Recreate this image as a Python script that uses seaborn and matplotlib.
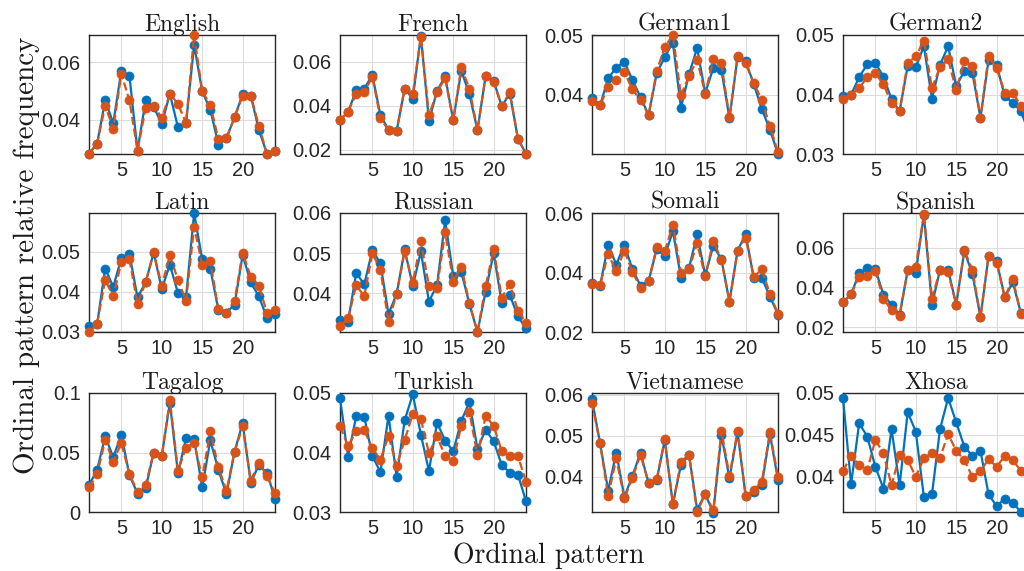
import matplotlib
matplotlib.use("Agg")
import matplotlib.pyplot as plt
import seaborn as sns
import pandas as pd
from matplotlib.ticker import FuncFormatter

# ordinal pattern index
patterns = list(range(1, 25))

english_1 = [0.0281, 0.0316, 0.0467, 0.0388, 0.0571, 0.0553, 0.0292, 0.0467, 0.0444, 0.0385, 0.0490, 0.0373,
             0.0388, 0.0660, 0.0498, 0.0435, 0.0313, 0.0336, 0.0408, 0.0489, 0.0484, 0.0365, 0.0281, 0.0290]
english_2 = [0.0281, 0.0316, 0.0449, 0.0368, 0.0560, 0.0467, 0.0292, 0.0440, 0.0449, 0.0406, 0.0490, 0.0455,
             0.0388, 0.0695, 0.0498, 0.0452, 0.0331, 0.0336, 0.0408, 0.0484, 0.0484, 0.0379, 0.0281, 0.0290]

french_1 = [0.0336, 0.0371, 0.0470, 0.0477, 0.0539, 0.0356, 0.0291, 0.0285, 0.0477, 0.0432, 0.0717, 0.0330,
            0.0467, 0.0533, 0.0333, 0.0558, 0.0452, 0.0288, 0.0533, 0.0512, 0.0397, 0.0455, 0.0250, 0.0180]
french_2 = [0.0336, 0.0371, 0.0455, 0.0460, 0.0532, 0.0342, 0.0288, 0.0285, 0.0477, 0.0452, 0.0714, 0.0356,
            0.0462, 0.0524, 0.0333, 0.0574, 0.0477, 0.0288, 0.0533, 0.0508, 0.0397, 0.0462, 0.0250, 0.0180]

german1_1 = [0.0395, 0.0382, 0.0428, 0.0446, 0.0456, 0.0425, 0.0396, 0.0366, 0.0436, 0.0464, 0.0488, 0.0378,
             0.0435, 0.0479, 0.0403, 0.0445, 0.0442, 0.0360, 0.0464, 0.0457, 0.0418, 0.0376, 0.0341, 0.0300]
german1_2 = [0.0390, 0.0382, 0.0414, 0.0425, 0.0439, 0.0409, 0.0391, 0.0366, 0.0440, 0.0481, 0.0501, 0.0399,
             0.0432, 0.0459, 0.0402, 0.0460, 0.0453, 0.0362, 0.0465, 0.0453, 0.0420, 0.0391, 0.0347, 0.0303]

german2_1 = [0.0397, 0.0400, 0.0429, 0.0451, 0.0453, 0.0430, 0.0392, 0.0372, 0.0448, 0.0446, 0.0481, 0.0393,
             0.0450, 0.0481, 0.0414, 0.0439, 0.0436, 0.0361, 0.0458, 0.0450, 0.0397, 0.0386, 0.0372, 0.0335]
german2_2 = [0.0393, 0.0400, 0.0411, 0.0429, 0.0436, 0.0417, 0.0386, 0.0372, 0.0453, 0.0464, 0.0490, 0.0411,
             0.0446, 0.0459, 0.0407, 0.0456, 0.0448, 0.0360, 0.0464, 0.0444, 0.0403, 0.0403, 0.0381, 0.0350]

latin_1 = [0.0312, 0.0317, 0.0458, 0.0412, 0.0484, 0.0495, 0.0385, 0.0423, 0.0498, 0.0406, 0.0468, 0.0396,
           0.0386, 0.0598, 0.0481, 0.0458, 0.0353, 0.0347, 0.0367, 0.0492, 0.0423, 0.0388, 0.0334, 0.0344]
latin_2 = [0.0298, 0.0319, 0.0429, 0.0388, 0.0474, 0.0481, 0.0369, 0.0423, 0.0499, 0.0415, 0.0491, 0.0429,
           0.0377, 0.0563, 0.0468, 0.0476, 0.0355, 0.0347, 0.0377, 0.0498, 0.0437, 0.0415, 0.0347, 0.0353]

russian_1 = [0.0334, 0.0329, 0.0450, 0.0422, 0.0507, 0.0474, 0.0348, 0.0398, 0.0509, 0.0417, 0.0504, 0.0379,
             0.0420, 0.0582, 0.0443, 0.0453, 0.0373, 0.0303, 0.0403, 0.0500, 0.0375, 0.0395, 0.0342, 0.0312]
russian_2 = [0.0317, 0.0337, 0.0420, 0.0392, 0.0500, 0.0458, 0.0329, 0.0398, 0.0504, 0.0426, 0.0529, 0.0418,
             0.0414, 0.0552, 0.0429, 0.0466, 0.0375, 0.0303, 0.0417, 0.0509, 0.0389, 0.0422, 0.0356, 0.0325]

somali_1 = [0.0367, 0.0357, 0.0496, 0.0428, 0.0496, 0.0412, 0.0357, 0.0372, 0.0481, 0.0457, 0.0542, 0.0383,
            0.0417, 0.0531, 0.0392, 0.0492, 0.0446, 0.0303, 0.0476, 0.0531, 0.0383, 0.0383, 0.0320, 0.0259]
somali_2 = [0.0364, 0.0359, 0.0464, 0.0406, 0.0476, 0.0403, 0.0350, 0.0372, 0.0487, 0.0473, 0.0564, 0.0401,
            0.0414, 0.0500, 0.0388, 0.0509, 0.0444, 0.0303, 0.0476, 0.0520, 0.0387, 0.0412, 0.0329, 0.0261]

spanish_1 = [0.0326, 0.0366, 0.0472, 0.0497, 0.0492, 0.0363, 0.0313, 0.0262, 0.0486, 0.0472, 0.0767, 0.0313,
             0.0489, 0.0489, 0.0313, 0.0583, 0.0469, 0.0250, 0.0558, 0.0533, 0.0351, 0.0425, 0.0271, 0.0240]
spanish_2 = [0.0326, 0.0366, 0.0455, 0.0459, 0.0484, 0.0341, 0.0287, 0.0257, 0.0486, 0.0503, 0.0770, 0.0343,
             0.0489, 0.0476, 0.0313, 0.0588, 0.0489, 0.0250, 0.0561, 0.0524, 0.0351, 0.0442, 0.0267, 0.0240]

tagalog_1 = [0.0226, 0.0353, 0.0636, 0.0460, 0.0650, 0.0311, 0.0155, 0.0198, 0.0500, 0.0472, 0.0918, 0.0325,
             0.0621, 0.0613, 0.0206, 0.0602, 0.0353, 0.0150, 0.0508, 0.0749, 0.0246, 0.0395, 0.0330, 0.0113]
tagalog_2 = [0.0206, 0.0319, 0.0602, 0.0424, 0.0579, 0.0319, 0.0169, 0.0226, 0.0500, 0.0472, 0.0940, 0.0347,
             0.0542, 0.0579, 0.0291, 0.0678, 0.0376, 0.0178, 0.0508, 0.0720, 0.0263, 0.0415, 0.0302, 0.0161]

turkish_1 = [0.0492, 0.0393, 0.0461, 0.0460, 0.0394, 0.0367, 0.0462, 0.0359, 0.0454, 0.0498, 0.0430, 0.0369,
             0.0450, 0.0420, 0.0402, 0.0453, 0.0485, 0.0406, 0.0438, 0.0419, 0.0379, 0.0366, 0.0363, 0.0318]
turkish_2 = [0.0444, 0.0411, 0.0436, 0.0437, 0.0407, 0.0388, 0.0428, 0.0378, 0.0421, 0.0465, 0.0456, 0.0399,
             0.0427, 0.0394, 0.0386, 0.0445, 0.0468, 0.0395, 0.0461, 0.0445, 0.0402, 0.0394, 0.0394, 0.0351]

vietnamese_1 = [0.0589, 0.0481, 0.0366, 0.0459, 0.0351, 0.0402, 0.0459, 0.0384, 0.0392, 0.0489, 0.0333, 0.0429,
                0.0453, 0.0320, 0.0358, 0.0312, 0.0502, 0.0396, 0.0508, 0.0353, 0.0363, 0.0380, 0.0504, 0.0392]
vietnamese_2 = [0.0580, 0.0481, 0.0353, 0.0445, 0.0347, 0.0398, 0.0453, 0.0384, 0.0394, 0.0491, 0.0333, 0.0437,
                0.0453, 0.0314, 0.0358, 0.0318, 0.0512, 0.0402, 0.0512, 0.0353, 0.0367, 0.0388, 0.0508, 0.0400]

xhosa_1 = [0.0494, 0.0391, 0.0464, 0.0448, 0.0412, 0.0386, 0.0457, 0.0390, 0.0477, 0.0454, 0.0376, 0.0379,
           0.0457, 0.0494, 0.0465, 0.0436, 0.0425, 0.0431, 0.0379, 0.0365, 0.0374, 0.0369, 0.0358, 0.0358]
xhosa_2 = [0.0407, 0.0425, 0.0414, 0.0408, 0.0444, 0.0428, 0.0390, 0.0426, 0.0420, 0.0400, 0.0422, 0.0428,
           0.0423, 0.0451, 0.0431, 0.0420, 0.0400, 0.0407, 0.0421, 0.0412, 0.0425, 0.0420, 0.0407, 0.0405]

languages = ["English", "French", "German1", "German2",
             "Latin", "Russian", "Somali", "Spanish",
             "Tagalog", "Turkish", "Vietnamese", "Xhosa"]
series_1 = [english_1, french_1, german1_1, german2_1, latin_1, russian_1,
            somali_1, spanish_1, tagalog_1, turkish_1, vietnamese_1, xhosa_1]
series_2 = [english_2, french_2, german1_2, german2_2, latin_2, russian_2,
            somali_2, spanish_2, tagalog_2, turkish_2, vietnamese_2, xhosa_2]

# axis limits / ticks for each panel
ylims = [(0.028, 0.0695), (0.018, 0.0721), (0.0300, 0.0501), (0.03, 0.05),
         (0.0298, 0.0598), (0.0303, 0.060), (0.020, 0.0603), (0.0175, 0.0776),
         (0.0, 0.1), (0.03, 0.05), (0.0314, 0.0604), (0.0358, 0.05)]
yticks = [[0.04, 0.06], [0.02, 0.04, 0.06], [0.04, 0.05], [0.03, 0.04, 0.05],
          [0.03, 0.04, 0.05], [0.04, 0.05, 0.06], [0.02, 0.04, 0.06], [0.02, 0.04, 0.06],
          [0, 0.05, 0.1], [0.03, 0.04, 0.05], [0.04, 0.05, 0.06], [0.04, 0.045, 0.05]]

BLUE = "#0072BD"
ORANGE = "#D95319"

sns.set_theme(style="white")
plt.rcParams["font.family"] = ["Liberation Sans", "DejaVu Sans"]

W, H = 1024, 571
fig = plt.figure(figsize=(W / 100, H / 100), dpi=100)

col_left = [89, 340, 592, 843]
row_top = [35, 213, 393]
ax_w, ax_h = 186, 119

for i, lang in enumerate(languages):
    r, c = divmod(i, 4)
    ax = fig.add_axes([col_left[c] / W, 1 - (row_top[r] + ax_h) / H, ax_w / W, ax_h / H])
    df = pd.DataFrame({"pattern": patterns, "a": series_1[i], "b": series_2[i]})
    sns.lineplot(data=df, x="pattern", y="a", ax=ax, color=BLUE, lw=1.6, marker="o",
                 markersize=6.5, markeredgecolor=BLUE, markeredgewidth=0.5,
                 errorbar=None, clip_on=False, zorder=3)
    sns.lineplot(data=df, x="pattern", y="b", ax=ax, color=ORANGE, lw=1.6, linestyle="--",
                 marker="o", markersize=6.5, markeredgecolor=ORANGE, markeredgewidth=0.5,
                 errorbar=None, clip_on=False, zorder=4)
    ax.set_xlim(1, 24)
    ax.set_ylim(*ylims[i])
    ax.set_xticks([5, 10, 15, 20])
    ax.set_yticks(yticks[i])
    ax.yaxis.set_major_formatter(FuncFormatter(lambda v, p: f"{v:g}"))
    ax.grid(True, color="#dcdcdc", lw=0.8)
    ax.set_axisbelow(True)
    for s in ax.spines.values():
        s.set_color("#262626")
        s.set_linewidth(1.0)
    ax.tick_params(direction="in", length=3, width=0.8, labelsize=14.5,
                   colors="#262626", pad=5)
    ax.tick_params(axis="y", pad=6)
    ax.set_xlabel("")
    ax.set_ylabel("")
    ax.set_title(lang, fontfamily="cmr10", fontsize=17, pad=3, color="#1a1a1a")

fig.text(27 / W, 1 - 255 / H, "Ordinal pattern relative frequency", rotation=90,
         ha="center", va="center", fontfamily="cmr10", fontsize=21, color="#1a1a1a")
fig.text(549 / W, 1 - 556 / H, "Ordinal pattern", ha="center", va="center",
         fontfamily="cmr10", fontsize=20, color="#1a1a1a")

fig.savefig("out.png", dpi=100)
